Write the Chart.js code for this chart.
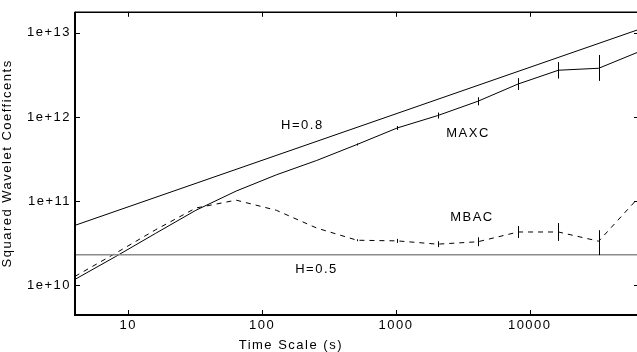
<!DOCTYPE html>
<html>
<head>
<meta charset="utf-8">
<script src="https://cdn.jsdelivr.net/npm/chart.js@4/dist/chart.umd.min.js"></script>
<style>
  html, body { margin: 0; padding: 0; background: #ffffff; overflow: hidden; }
  #wrap { width: 641px; height: 352px; }
</style>
</head>
<body>
<div id="wrap"><canvas id="waveletChart" width="641" height="352"></canvas></div>
<script>
// time scales (s), powers of two
const timeScales = [4, 8, 16, 32, 64, 128, 256, 512, 1024, 2048, 4096, 8192, 16384, 32768, 65536];

const maxcValues = [1.18e10, 2.19e10, 4.15e10, 7.8e10, 1.32e11, 2.06e11, 3.05e11, 4.72e11, 7.42e11, 1.04e12, 1.54e12, 2.47e12, 3.6e12, 3.8e12, 5.97e12];
const maxcErrLow = [null, null, null, null, null, null, null, 4.6e11, 7.03e11, 9.6e11, 1.38e12, 2.1e12, 2.87e12, 2.69e12, null];
const maxcErrHigh = [null, null, null, null, null, null, null, 4.85e11, 7.83e11, 1.13e12, 1.72e12, 2.9e12, 4.5e12, 5.46e12, null];

const mbacValues = [1.28e10, 2.4e10, 4.58e10, 8.3e10, 1.03e11, 7.8e10, 4.8e10, 3.44e10, 3.38e10, 3.09e10, 3.3e10, 4.31e10, 4.31e10, 3.35e10, 1.12e11];
const mbacErrLow = [null, null, null, null, null, null, null, 3.35e10, 3.2e10, 2.85e10, 2.92e10, 3.66e10, 3.38e10, 2.29e10, null];
const mbacErrHigh = [null, null, null, null, null, null, null, 3.53e10, 3.57e10, 3.35e10, 3.73e10, 5.07e10, 5.5e10, 4.53e10, null];

// reference slopes
const h08X = [4, 65536];
const h08Y = [5.17e10, 1.1e13];
const h05X = [4, 65536];
const h05Y = [2.32e10, 2.32e10];

const xTicks = [10, 100, 1000, 10000];
const xTickLabels = ['10', '100', '1000', '10000'];
const yTicks = [1e10, 1e11, 1e12, 1e13];
const yTickLabels = ['1e+10', '1e+11', '1e+12', '1e+13'];

const xTitle = 'Time Scale (s)';
const xTitleAt = 164; // the title sits left of the plot centre (figure was cropped)

// text labels inside the plot, in data coordinates
const noteTexts = ['H=0.8', 'MAXC', 'MBAC', 'H=0.5'];
const noteX = [200, 3460, 3700, 255];
const noteY = [7.9e11, 6.37e11, 6.5e10, 1.54e10];

Chart.defaults.color = '#000000';
Chart.defaults.font.family = "'Liberation Sans', Arial, sans-serif";
Chart.defaults.font.size = 13;

const toPoints = (xs, ys) => xs.map((x, i) => ({ x: x, y: ys[i] }));

const framePlugin = {
  id: 'frame',
  beforeDraw(chart) {
    chart.ctx.letterSpacing = '1.5px';
  },
  afterDatasetsDraw(chart) {
    const { ctx, chartArea: a, scales: { x, y } } = chart;
    ctx.save();
    ctx.strokeStyle = '#000000';

    // error bars
    ctx.lineWidth = 1;
    const bars = (lows, highs) => {
      lows.forEach((lo, i) => {
        if (lo == null) return;
        const px = Math.round(x.getPixelForValue(timeScales[i])) + 0.5;
        ctx.beginPath();
        ctx.moveTo(px, y.getPixelForValue(lo));
        ctx.lineTo(px, y.getPixelForValue(highs[i]));
        ctx.stroke();
      });
    };
    bars(maxcErrLow, maxcErrHigh);
    bars(mbacErrLow, mbacErrHigh);

    // box
    ctx.lineWidth = 1.5;
    ctx.beginPath();
    ctx.moveTo(a.left, a.top + 0.5);
    ctx.lineTo(a.right, a.top + 0.5);
    ctx.lineTo(a.right, a.bottom);
    ctx.stroke();
    ctx.lineWidth = 2;
    ctx.beginPath();
    ctx.moveTo(a.left, a.top);
    ctx.lineTo(a.left, a.bottom);
    ctx.lineTo(a.right, a.bottom);
    ctx.stroke();

    // inward ticks
    ctx.lineWidth = 1;
    const len = 5;
    xTicks.forEach(v => {
      const px = Math.round(x.getPixelForValue(v)) + 0.5;
      ctx.beginPath();
      ctx.moveTo(px, a.bottom); ctx.lineTo(px, a.bottom - len);
      ctx.moveTo(px, a.top); ctx.lineTo(px, a.top + len);
      ctx.stroke();
    });
    yTicks.forEach(v => {
      const py = Math.round(y.getPixelForValue(v)) + 0.5;
      ctx.beginPath();
      ctx.moveTo(a.left, py); ctx.lineTo(a.left + len, py);
      ctx.moveTo(a.right, py); ctx.lineTo(a.right - len, py);
      ctx.stroke();
    });

    // notes + x title
    ctx.fillStyle = '#000000';
    ctx.font = "13px 'Liberation Sans', Arial, sans-serif";
    ctx.textAlign = 'center';
    ctx.textBaseline = 'middle';
    noteTexts.forEach((t, i) => {
      ctx.fillText(t, x.getPixelForValue(noteX[i]), y.getPixelForValue(noteY[i]));
    });
    ctx.fillText(xTitle, x.getPixelForValue(xTitleAt), x.bottom - 7);
    ctx.restore();
  }
};

function renderWaveletChart() {
  const ctx = document.getElementById('waveletChart').getContext('2d');

  const lineBase = { pointRadius: 0, borderWidth: 1, tension: 0, fill: false };

  new Chart(ctx, {
    type: 'line',
    data: {
      datasets: [
        { ...lineBase, label: 'H=0.8', data: toPoints(h08X, h08Y), borderColor: '#000000' },
        { ...lineBase, label: 'H=0.5', data: toPoints(h05X, h05Y), borderColor: '#8c8c8c', borderWidth: 1.5 },
        { ...lineBase, label: 'MAXC', data: toPoints(timeScales, maxcValues), borderColor: '#000000' },
        { ...lineBase, label: 'MBAC', data: toPoints(timeScales, mbacValues), borderColor: '#000000', borderDash: [5, 5] }
      ]
    },
    options: {
      responsive: false,
      animation: false,
      layout: { padding: { top: 8, right: 2, left: 0, bottom: 0 } },
      plugins: {
        legend: { display: false },
        tooltip: { enabled: false }
      },
      scales: {
        x: {
          type: 'logarithmic',
          min: 4,
          max: 65536,
          afterBuildTicks: scale => { scale.ticks = xTicks.map(v => ({ value: v })); },
          afterFit: scale => { scale.height = 37; },
          ticks: {
            autoSkip: false,
            maxRotation: 0,
            padding: 3,
            font: { size: 13 },
            callback: v => xTickLabels[xTicks.indexOf(v)]
          },
          grid: { display: false, drawTicks: false },
          border: { display: false },
          title: { display: false }
        },
        y: {
          type: 'logarithmic',
          min: 4.45e9,
          max: 1.78e13,
          afterBuildTicks: scale => { scale.ticks = yTicks.map(v => ({ value: v })); },
          afterFit: scale => { scale.width = 75; },
          ticks: {
            autoSkip: false,
            padding: 4,
            font: { size: 13 },
            callback: v => yTickLabels[yTicks.indexOf(v)]
          },
          grid: { display: false, drawTicks: false },
          border: { display: false },
          title: { display: true, text: 'Squared Wavelet Coefficents', font: { size: 13 }, padding: 0 }
        }
      }
    },
    plugins: [framePlugin]
  });
}

document.addEventListener('DOMContentLoaded', renderWaveletChart);
</script>
</body>
</html>
